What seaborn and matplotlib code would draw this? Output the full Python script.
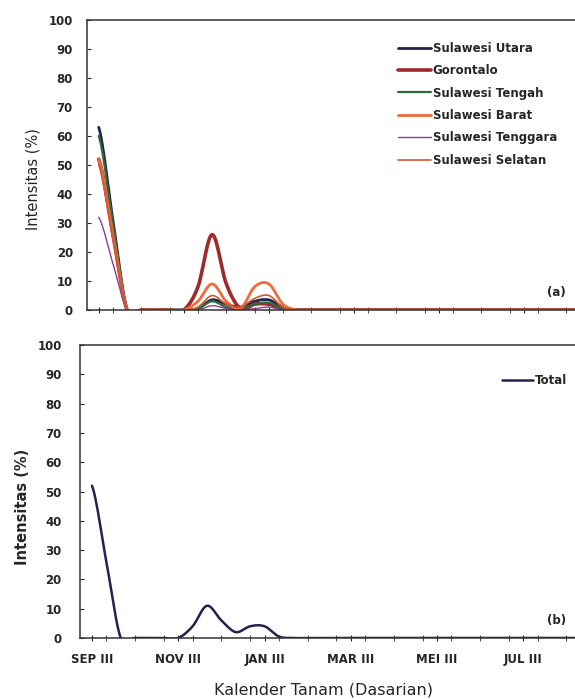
import numpy as np
import pandas as pd
import seaborn as sns
from matplotlib import pyplot as plt

# dasarian labels, SEP III .. AGT III
months = ["SEP", "OKT", "NOV", "DES", "JAN", "FEB", "MAR", "APR", "MEI", "JUN", "JUL", "AGT"]
dasarian = []
for m in months:
    for d in ["I", "II", "III"]:
        dasarian.append(m + " " + d)
dasarian = dasarian[2:] + ["SEP I", "SEP II"]
n_points = 35
zeros = [0] * 20

# top panel, intensitas per province (%)
sulut = [63, 31, 0, 0, 0, 0, 0, 0.5, 3.5, 2, 1, 3, 3.5, 1, 0] + zeros
gorontalo = [52, 26, 0, 0, 0, 0, 0, 8, 26, 9, 0.5, 2, 2, 0.5, 0] + zeros
sulteng = [60, 30, 0, 0, 0, 0, 0, 0.5, 3, 1, 0.5, 2, 2.5, 0.5, 0] + zeros
sulbar = [52, 26, 0, 0, 0, 0, 0, 3, 9, 3, 0.5, 8, 9, 2, 0] + zeros
sultra = [32, 16, 0, 0, 0, 0, 0, 0, 1.5, 0.5, 0, 0.5, 1, 0, 0] + zeros
sulsel = [50, 25, 0, 0, 0, 0, 0, 1, 5, 2, 1, 4, 5, 1, 0] + zeros

# bottom panel
total = [52, 26, 0, 0, 0, 0, 0, 4, 11, 6, 2, 4, 4, 0.5, 0] + zeros

series = {
    "Sulawesi Utara": sulut,
    "Gorontalo": gorontalo,
    "Sulawesi Tengah": sulteng,
    "Sulawesi Barat": sulbar,
    "Sulawesi Tenggara": sultra,
    "Sulawesi Selatan": sulsel,
}
colors = {
    "Sulawesi Utara": "#22224e",
    "Gorontalo": "#9e2a2c",
    "Sulawesi Tengah": "#2f6a3c",
    "Sulawesi Barat": "#ef6a3c",
    "Sulawesi Tenggara": "#8c3f8c",
    "Sulawesi Selatan": "#cf5a30",
}
widths = {
    "Sulawesi Utara": 2.0,
    "Gorontalo": 2.6,
    "Sulawesi Tengah": 1.6,
    "Sulawesi Barat": 2.0,
    "Sulawesi Tenggara": 1.0,
    "Sulawesi Selatan": 1.2,
}


def smooth(y, steps=12):
    # excel style smoothed line (catmull-rom)
    y = np.asarray(y, dtype=float)
    p = np.concatenate([[y[0]], y, [y[-1]]])
    xs, ys = [], []
    for i in range(len(y) - 1):
        p0, p1, p2, p3 = p[i], p[i + 1], p[i + 2], p[i + 3]
        t = np.linspace(0, 1, steps, endpoint=False)
        v = 0.5 * (2 * p1 + (-p0 + p2) * t + (2 * p0 - 5 * p1 + 4 * p2 - p3) * t ** 2
                   + (-p0 + 3 * p1 - 3 * p2 + p3) * t ** 3)
        xs.extend(i + t)
        ys.extend(v)
    xs.append(len(y) - 1)
    ys.append(y[-1])
    return np.array(xs), np.array(ys)


rows = []
for name, vals in series.items():
    xs, ys = smooth(vals)
    for a, b in zip(xs, ys):
        rows.append((name, a, b))
top_df = pd.DataFrame(rows, columns=["prov", "x", "y"])

xs, ys = smooth(total)
bot_df = pd.DataFrame({"prov": "Total", "x": xs, "y": ys})

sns.set_style("ticks")
plt.rcParams["font.family"] = ["DejaVu Sans"]

fig = plt.figure(figsize=(5.75, 6.99), dpi=100)
ax1 = fig.add_axes([0.151, 0.5565, 0.849, 0.415])
ax2 = fig.add_axes([0.139, 0.0873, 0.861, 0.419])

sns.lineplot(data=top_df, x="x", y="y", hue="prov", size="prov",
             palette=colors, sizes=widths, estimator=None, sort=False, ax=ax1)
sns.lineplot(data=bot_df, x="x", y="y", hue="prov", palette={"Total": "#22224e"},
             estimator=None, sort=False, linewidth=1.8, ax=ax2)

for ax, pad in [(ax1, 10), (ax2, 13)]:
    ax.set_xlim(-0.84, 33.6)
    ax.set_ylim(0, 100)
    ax.set_yticks(range(0, 101, 10))
    ax.set_xticks(range(0, n_points, 6))
    ax.set_xticks(range(1, n_points, 2), minor=True)
    ax.set_xlabel("")
    ax.set_ylabel("")
    ax.spines["right"].set_visible(False)
    for s in ["left", "top", "bottom"]:
        ax.spines[s].set_color("#333333")
        ax.spines[s].set_linewidth(1.1)
    ax.tick_params(axis="y", direction="in", length=3, labelsize=8.5, pad=pad)
    ax.tick_params(axis="x", which="both", direction="inout", length=4)
    for lab in ax.get_yticklabels():
        lab.set_fontweight("bold")

ax1.set_xticklabels([])
ax2.set_xticklabels([dasarian[i] for i in range(0, n_points, 6)],
                    fontsize=8.5, fontweight="bold")
ax2.tick_params(axis="x", pad=9)

ax1.legend(loc="upper left", bbox_to_anchor=(0.637, 0.925), frameon=False,
           prop={"size": 8.5, "weight": "bold"}, labelspacing=0.8,
           handlelength=2.8, handletextpad=0.15, borderpad=0, borderaxespad=0)
ax2.legend(loc="upper left", bbox_to_anchor=(0.853, 0.9), frameon=False,
           prop={"size": 8.5, "weight": "bold"}, handlelength=2.6,
           handletextpad=0.15, borderpad=0, borderaxespad=0)

fig.text(0.057, 0.744, "Intensitas (%)", rotation=90, ha="center", va="center", fontsize=10.5)
fig.text(0.04, 0.275, "Intensitas (%)", rotation=90, ha="center", va="center",
         fontsize=10.5, fontweight="bold")
fig.text(0.562, 0.013, "Kalender Tanam (Dasarian)", ha="center", va="center", fontsize=11.5)
fig.text(0.951, 0.581, "(a)", ha="left", va="center", fontsize=8.5, fontweight="bold")
fig.text(0.951, 0.113, "(b)", ha="left", va="center", fontsize=8.5, fontweight="bold")

fig.savefig("out.png", dpi=100)
